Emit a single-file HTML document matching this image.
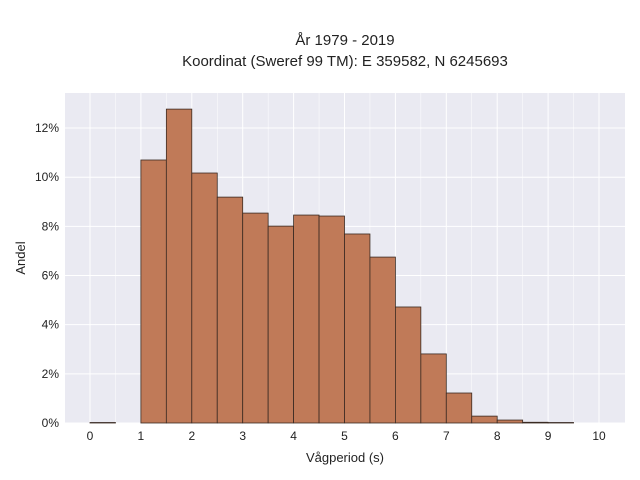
<!DOCTYPE html>
<html><head><meta charset="utf-8"><style>
html,body{margin:0;padding:0;background:#fff;}
svg{display:block;font-family:"Liberation Sans",sans-serif;}
</style></head><body>
<svg id="chart" width="640" height="480" viewBox="0 0 640 480">
<text x="345" y="45" text-anchor="middle" font-size="15" fill="#222">År 1979 - 2019</text>
<text x="345" y="66" text-anchor="middle" font-size="15" fill="#222">Koordinat (Sweref 99 TM): E 359582, N 6245693</text>
<rect x="65" y="93" width="560" height="330" fill="#eaeaf2"/>
<g id="grid"></g><g id="bars"></g><g id="ticks"></g>
<text x="345" y="462" text-anchor="middle" font-size="13" fill="#222">Vågperiod (s)</text>
<text transform="translate(25,258) rotate(-90)" text-anchor="middle" font-size="13" fill="#222">Andel</text>
</svg>
<script>
const binStarts=[0,0.5,1,1.5,2,2.5,3,3.5,4,4.5,5,5.5,6,6.5,7,7.5,8,8.5,9,9.5];
const shares=[0.02,0,10.7,12.77,10.17,9.19,8.54,8.01,8.46,8.42,7.69,6.75,4.72,2.81,1.22,0.28,0.12,0.03,0.02,0];
const xTicks=[0,1,2,3,4,5,6,7,8,9,10];
const yTicks=[0,2,4,6,8,10,12];
const binWidth=0.5;
const ns="http://www.w3.org/2000/svg";
const X=v=>90+v*50.9, Y=v=>423-v*24.58;
const grid=document.getElementById('grid'),bars=document.getElementById('bars'),ticks=document.getElementById('ticks');
function mk(tag,attrs,parent){const e=document.createElementNS(ns,tag);for(const k in attrs)e.setAttribute(k,attrs[k]);parent.appendChild(e);return e;}
xTicks.forEach(t=>{
 const l=mk('line',{x1:X(t),x2:X(t),y1:93,y2:423,stroke:'#fff','stroke-width':1},grid);
 
 
 const tx=mk('text',{x:X(t),y:440,'text-anchor':'middle','font-size':12,fill:'#222'},ticks);
 tx.textContent=t;
 
 
});
[0.5,1.5,2.5,3.5,4.5,5.5,6.5,7.5,8.5,9.5].forEach(t=>{
 const l=mk('line',{x1:X(t),x2:X(t),y1:93,y2:423,stroke:'#fff','stroke-width':0.5},grid);
 
 
});
yTicks.forEach(t=>{
 const l=mk('line',{x1:65,x2:625,y1:Y(t),y2:Y(t),stroke:'#fff','stroke-width':1},grid);
 
 
 const tx=mk('text',{x:59,y:Y(t)+4,'text-anchor':'end','font-size':12,fill:'#222'},ticks);
 tx.textContent=t+'%';
 
 
});
binStarts.forEach((b,i)=>{
 const v=shares[i];
 const r=mk('rect',{x:X(b),y:Y(v),width:X(b+binWidth)-X(b),height:Math.max(0,423-Y(v)),fill:'#c07a58',stroke:'#3a2a22','stroke-width':0.8},bars);
 
 
});
</script>
</body></html>
